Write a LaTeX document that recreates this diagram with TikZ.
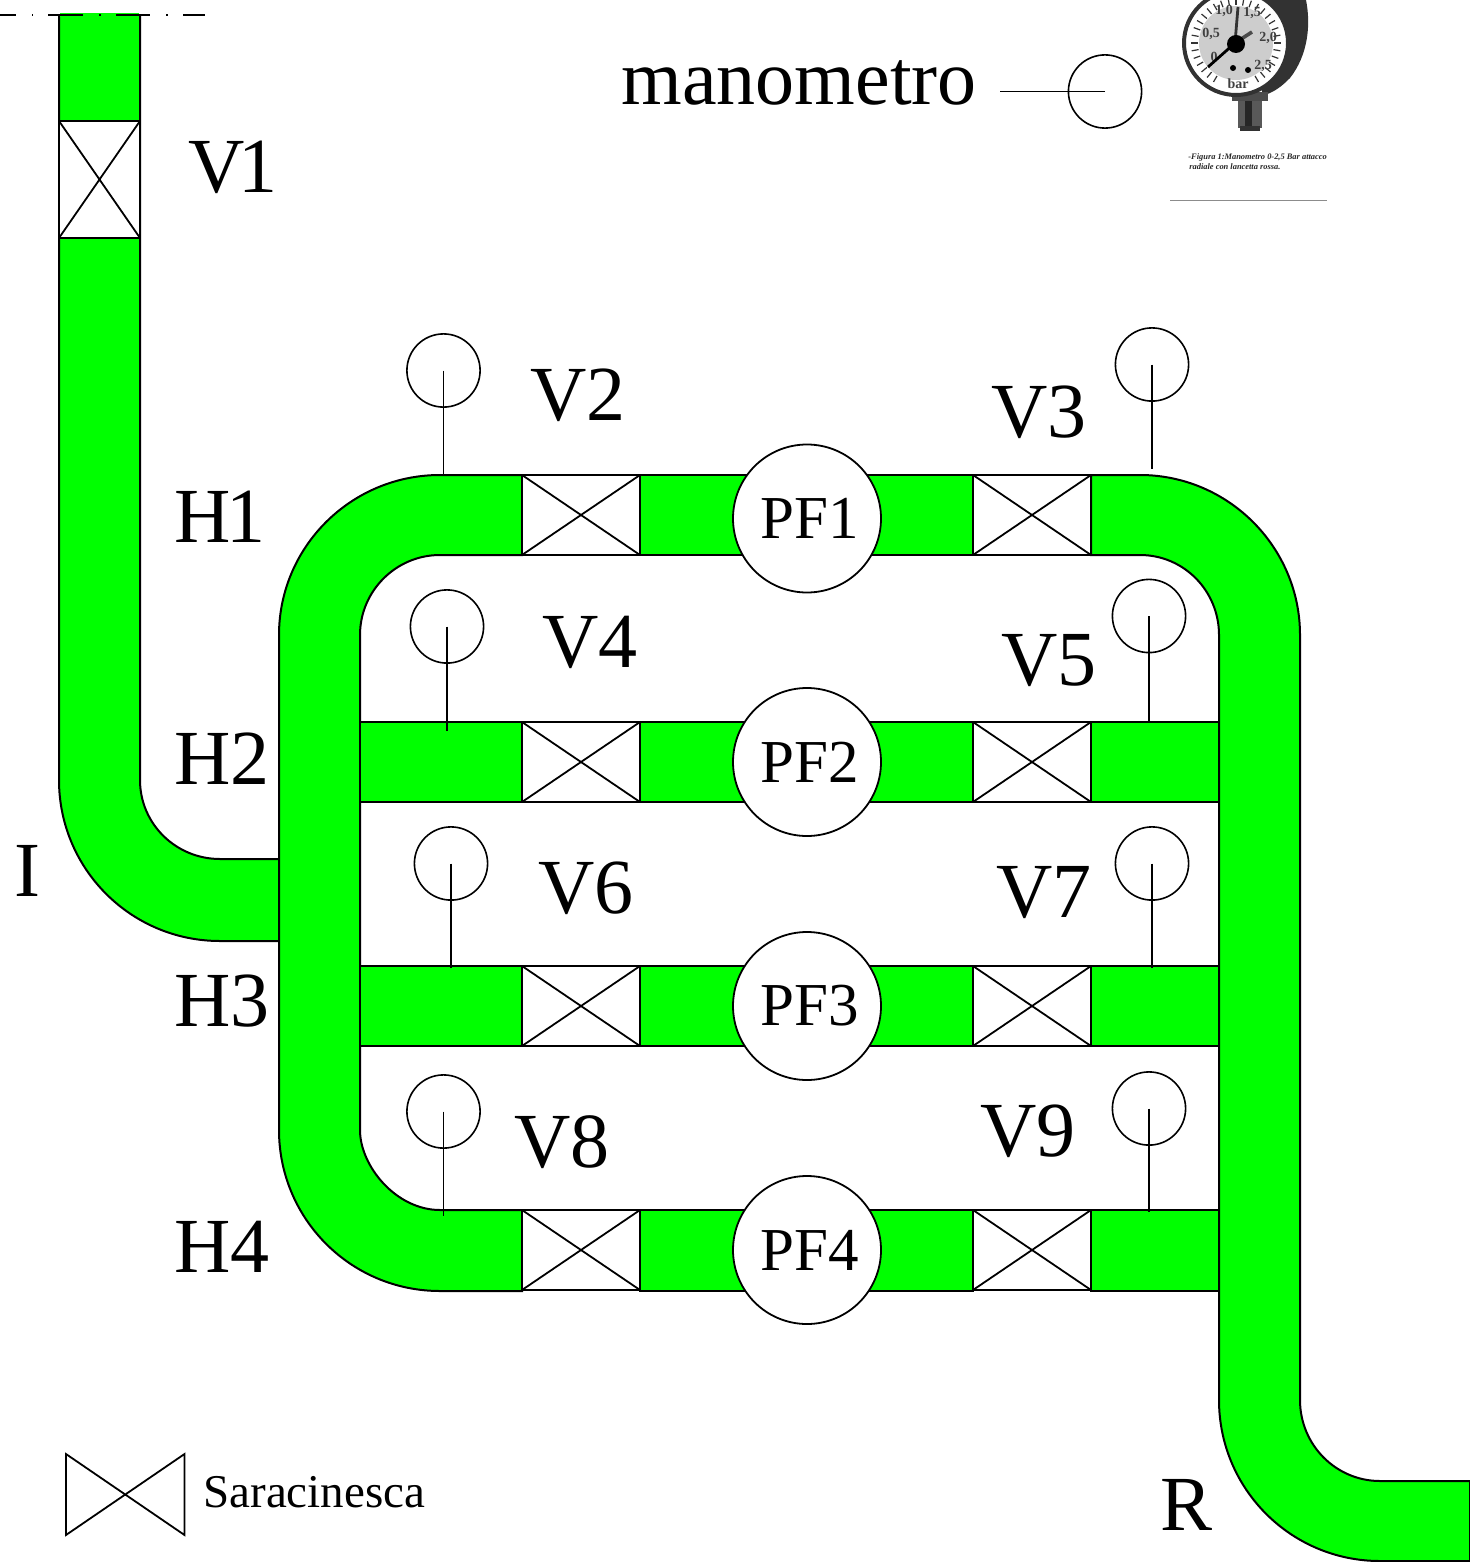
\documentclass[tikz,border=0pt]{standalone}
\usepackage{fontspec}
\setmainfont{Liberation Serif}
\tikzset{
  x=0.5pt,y=-0.5pt,
  pipe/.style={draw=black,fill=pipegreen,line width=1pt,line join=miter},
  valvebox/.style={draw=black,fill=white,line width=0.9pt,inner sep=0pt,
    minimum width=59pt,minimum height=40pt,
    path picture={\draw[line width=0.9pt] (path picture bounding box.north west)--(path picture bounding box.south east)
      (path picture bounding box.north east)--(path picture bounding box.south west);}},
  pumpnode/.style={circle,draw=black,fill=white,line width=0.9pt,minimum size=74pt,inner sep=0pt,font=\fontsize{30.5}{30}\selectfont},
  gauge/.style={circle,draw=black,line width=0.8pt,minimum size=36.6pt,inner sep=0pt},
  stem/.style={draw=black,line width=0.8pt},
  biglabel/.style={anchor=base west,inner sep=0pt,font=\fontsize{39}{40}\selectfont},
}
\definecolor{pipegreen}{RGB}{0,255,0}
\definecolor{dial}{RGB}{205,205,205}
\definecolor{case}{RGB}{50,50,50}
\begin{document}
\begin{tikzpicture}
\useasboundingbox (0,0) rectangle (1470,1562);
\begin{scope}
\clip (0,0) rectangle (1470,1562);
% inlet pipe
\path[pipe] (59,15)--(59,780) .. controls (59,869) and (131,941) .. (220,941)--(279,941)--(279,859)--(220,859)
  .. controls (176,859) and (140,824) .. (140,780)--(140,15);
\fill[pipegreen] (60,13) rectangle (139,17);
% dash-dot line at the top
\draw[line width=1pt] (0,15)--(16,15) (32,15)--(33,15) (48,15)--(83,15) (99,15)--(101,15) (116,15)--(150,15) (166,15)--(168,15) (183,15)--(205,15);
% left header
\path[pipe] (522,475)--(440,475) .. controls (351,475) and (279,547) .. (279,635)--(279,1130)
  .. controls (279,1219) and (351,1291) .. (440,1291)--(522,1291)--(522,1210)--(440,1210)
  .. controls (396,1210) and (360,1166) .. (360,1130)--(360,635)
  .. controls (360,591) and (396,555) .. (440,555)--(522,555)--cycle;
\path[pipe] (360,722) rectangle (522,802);
\path[pipe] (360,966) rectangle (522,1046);
% right header
\path[pipe] (1091,475)--(1140,475) .. controls (1228,475) and (1300,547) .. (1300,635)--(1300,1400)
  .. controls (1300,1445) and (1336,1481) .. (1380,1481)--(1470,1481)--(1470,1561)--(1380,1561)
  .. controls (1291,1561) and (1219,1489) .. (1219,1400)--(1219,635)
  .. controls (1219,591) and (1184,555) .. (1140,555)--(1091,555)--cycle;
\path[pipe] (1091,722) rectangle (1219,802);
\path[pipe] (1091,966) rectangle (1219,1046);
\path[pipe] (1091,1210) rectangle (1219,1291);
% middle sections
\path[pipe] (640,475) rectangle (973,555);
\path[pipe] (640,722) rectangle (973,802);
\path[pipe] (640,966) rectangle (973,1046);
\path[pipe] (640,1210) rectangle (973,1291);
% valves
\node[valvebox,minimum width=40.5pt,minimum height=58.5pt] (v1) at (99.5,179.5) {};
\foreach \n/\yy in {a/515,b/762,c/1006,d/1250}{
  \node[valvebox] (l\n) at (581,\yy) {};
  \node[valvebox] (r\n) at (1032,\yy) {};
}
% pumps
\node[pumpnode] (pf1) at (807,518.5) {\hspace{3pt}PF1};
\node[pumpnode] (pf2) at (807,762) {\hspace{3pt}PF2};
\node[pumpnode] (pf3) at (807,1006) {\hspace{3pt}PF3};
\node[pumpnode] (pf4) at (807,1250) {\hspace{3pt}PF4};
% gauges
\foreach \nm/\gx/\gy/\ey in {g2/443.5/370.5/475,g3/1152/364.5/469,g4/447/626.5/731,g5/1149/616/722,g6/451/863.5/968,g7/1152/863.5/968,g8/443.5/1111.5/1216,g9/1149/1108.5/1212}{
  \node[gauge] (\nm) at (\gx,\gy) {};
  \coordinate (\nm e) at (\gx,\ey);
  \draw[stem] (\nm.center)--(\nm e);
}
\node[gauge] (gm) at (1105,91.5) {};
\coordinate (gme) at (1000,91.5);
\draw[stem] (gm.center)--(gme);
% labels
\node[biglabel] (lv1) at (188,193) {V\kern-3pt 1};
\node[biglabel] (lv2) at (530,420) {V2};
\node[biglabel] (lv3) at (991,437) {V3};
\node[biglabel] (lv4) at (542,667) {V4};
\node[biglabel] (lv5) at (1001,685) {V5};
\node[biglabel] (lv6) at (538,913) {V6};
\node[biglabel] (lv7) at (996,917) {V7};
\node[biglabel] (lv8) at (514,1167) {V8};
\node[biglabel] (lv9) at (980,1156) {V9};
\node[biglabel] (lh1) at (174,542) {H\kern-2pt 1};
\node[biglabel] (lh2) at (174,784) {H2};
\node[biglabel] (lh3) at (174,1026) {H3};
\node[biglabel] (lh4) at (174,1272) {H4};
\node[biglabel] (li) at (14,896) {I};
\node[biglabel] (lr) at (1160,1530) {R};
\node[biglabel] (lman) at (621,105) {manometro};
% legend
\node[anchor=base west,inner sep=0pt,font=\fontsize{23.5}{24}\selectfont] (lsar) at (203,1507) {Saracinesca};
\draw[line width=0.9pt,line join=miter] (66,1454)--(184.5,1535)--(184.5,1454)--(66,1535)--cycle;
% manometer picture
\fill[case] (1268,0)--(1306,0) .. controls (1311,25) and (1308,55) .. (1290,78) .. controls (1282,86) and (1275,92) .. (1262,96)--(1262,60)--cycle;
\fill[black!65] (1238,92) rectangle (1262,128);
\fill[black!85] (1245,92) rectangle (1252,128);
\fill[case] (1240,126) rectangle (1260,131);
\fill[black!70] (1232,92) rectangle (1268,101);
\draw[case,fill=white,line width=2pt] (1236,43) circle [radius=26pt];
\fill[dial] (1236,43) circle [radius=18.5pt];
\foreach \a in {-60,-50,...,240}{
  \draw[black!80,line width=0.6pt] (1236,43) ++(\a:19pt) -- ++(\a:3.5pt);
}
\foreach \tx/\ty/\lbl in {1224/11/{1,0},1252/13/{1,5},1211/34/{0,5},1268/38/{2,0},1214/57/{0},1263/66/{2,5},1238/84/{bar}}{
  \node[inner sep=0pt,font=\fontsize{7}{7}\bfseries\selectfont,text=black!75] at (\tx,\ty) {\lbl};
}
\draw[black,line width=1.4pt] (1208,67)--(1235,43);
\draw[black!80,line width=1.4pt] (1235,43)--(1238,7);
\draw[black!70,line width=1.8pt] (1235,43)--(1252,32);
\fill[black] (1236,44) circle [radius=4.5pt];
\fill (1233,68) circle [radius=1.5pt] (1248,70) circle [radius=1.5pt];
\node[anchor=base west,inner sep=0pt,font=\fontsize{4.2}{5}\bfseries\itshape\selectfont,text=black!85] (cap1) at (1188,160) {-Figura 1:Manometro 0-2,5 Bar attacco};
\node[anchor=base west,inner sep=0pt,font=\fontsize{4.2}{5}\bfseries\itshape\selectfont,text=black!85] (cap2) at (1189,170) {radiale con lancetta rossa.};
\draw[black!45,line width=0.5pt] (1170,201)--(1327,201);
\end{scope}
\end{tikzpicture}
\end{document}
